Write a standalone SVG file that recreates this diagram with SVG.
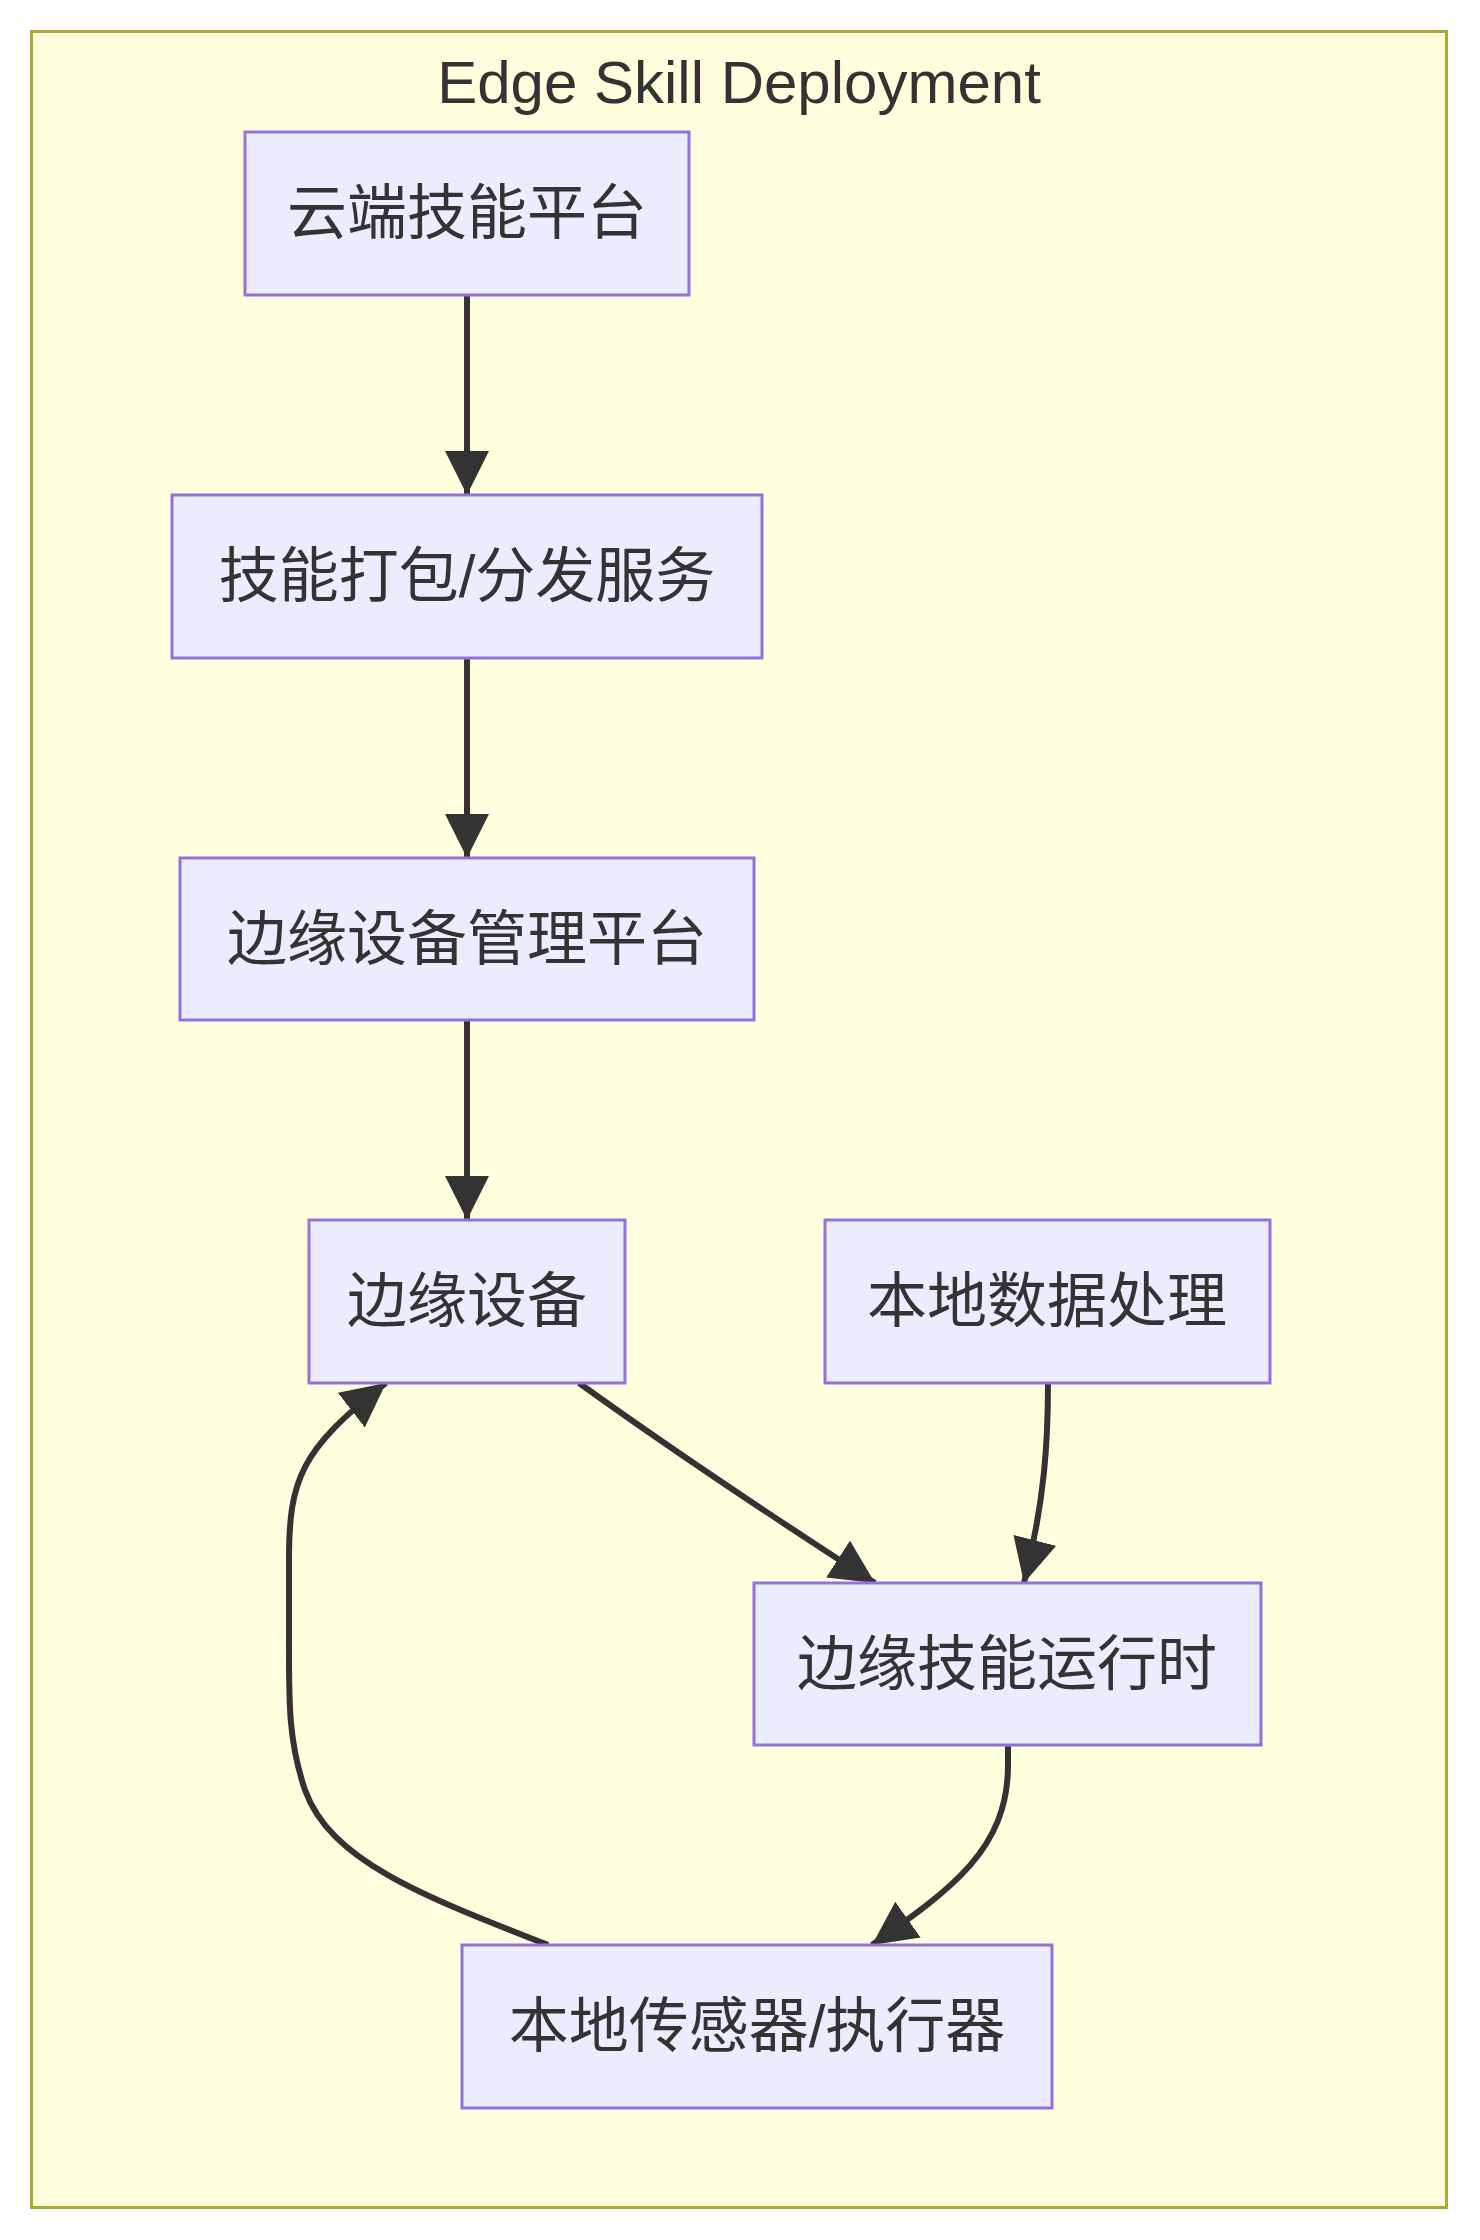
<svg xmlns="http://www.w3.org/2000/svg" width="1480" height="2240" viewBox="0 0 1480 2240">
<style>
.node rect{fill:#ECECFF;stroke:#9370DB;stroke-width:3}
.node text{font-family:"Liberation Sans","Noto Sans CJK SC",sans-serif;font-size:60px;fill:#333;text-anchor:middle;dominant-baseline:central}
.edge{fill:none;stroke:#333;stroke-width:6;marker-end:url(#arr)}
</style>
<defs>
<marker id="arr" markerUnits="userSpaceOnUse" markerWidth="50" markerHeight="50" refX="44" refY="22" orient="auto">
<path d="M0,0 L44,22 L0,44 Z" fill="#333"/>
</marker>
</defs>
<g id="cluster">
<rect x="31.5" y="31.5" width="1415" height="2176" fill="#FFFFDE" stroke="#AAAA33" stroke-width="3"/>
<text x="739" y="82" font-family="Liberation Sans,sans-serif" font-size="60" fill="#333" text-anchor="middle" dominant-baseline="central">Edge Skill Deployment</text>
</g>
<g id="connectors">
<path class="edge" d="M467,295 V495"/>
<path class="edge" d="M467,658 V858"/>
<path class="edge" d="M467,1020 V1220"/>
<path class="edge" d="M579,1383 Q700,1470 875,1583"/>
<path class="edge" d="M1048,1383 C1048,1440 1045,1500 1024,1583"/>
<path class="edge" d="M1008,1745 V1765 C1008,1850 950,1890 872,1945"/>
<path class="edge" d="M548,1945 C420,1895 330,1860 305,1790 C288,1740 289,1700 289,1640 V1560 C289,1480 300,1450 386,1383"/>
</g>
<g id="n1" class="node"><rect x="245" y="132" width="444" height="163"/><text x="467" y="213">云端技能平台</text></g>
<g id="n2" class="node"><rect x="172" y="495" width="590" height="163"/><text x="467" y="576">技能打包/分发服务</text></g>
<g id="n3" class="node"><rect x="180" y="858" width="574" height="162"/><text x="467" y="939">边缘设备管理平台</text></g>
<g id="n4" class="node"><rect x="309" y="1220" width="316" height="163"/><text x="467" y="1301">边缘设备</text></g>
<g id="n5" class="node"><rect x="825" y="1220" width="445" height="163"/><text x="1047" y="1301">本地数据处理</text></g>
<g id="n6" class="node"><rect x="754" y="1583" width="507" height="162"/><text x="1007" y="1664">边缘技能运行时</text></g>
<g id="n7" class="node"><rect x="462" y="1945" width="590" height="163"/><text x="757" y="2026">本地传感器/执行器</text></g>
</svg>
